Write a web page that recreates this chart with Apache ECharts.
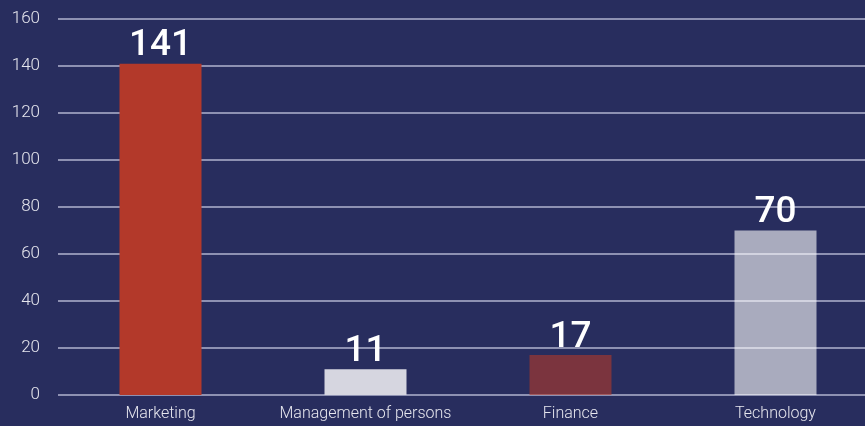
<!DOCTYPE html>
<html><head><meta charset="utf-8">
<script src="https://cdn.jsdelivr.net/npm/echarts@6/dist/echarts.min.js"></script>
<style>html,body{margin:0;padding:0;background:#282d5e;overflow:hidden;width:865px;height:426px;}#c{width:878px;height:426px;}</style>
</head><body><div id="c"></div>
<script>
const categories = ['Marketing', 'Management of persons', 'Finance', 'Technology'];
const values = [141, 11, 17, 70];
const barColors = ['#b3392a', '#d6d6e0', 'rgba(179,57,42,0.6)', 'rgba(255,255,255,0.6)'];
const yTicks = [0, 20, 40, 60, 80, 100, 120, 140, 160];

const chart = echarts.init(document.getElementById('c'), null, {renderer: 'canvas'});
chart.setOption({
  backgroundColor: '#282d5e',
  animation: false,
  grid: {left: 58, right: 0, top: 19, bottom: 31, containLabel: false},
  xAxis: {
    type: 'category', data: categories,
    axisLine: {show: false}, axisTick: {show: false},
    axisLabel: {interval: 0, hideOverlap: false, color: '#e6e6ee', fontSize: 16, fontFamily: 'Roboto', fontWeight: 300, margin: 11}
  },
  yAxis: {
    type: 'value', min: yTicks[0], max: yTicks[yTicks.length - 1], interval: 20,
    axisLine: {show: false}, axisTick: {show: false},
    axisLabel: {color: '#e6e6ee', fontSize: 17, fontFamily: 'Roboto', fontWeight: 300, margin: 18},
    splitLine: {lineStyle: {color: '#8e91b2', width: 2}}
  },
  series: [{
    type: 'bar', barWidth: 82, z: 1,
    data: values.map((v, i) => ({value: v, itemStyle: {color: barColors[i]}})),
    label: {show: true, position: 'top', distance: -1, color: '#ffffff', fontSize: 37, fontWeight: 500, fontFamily: 'Roboto', lineHeight: 37}
  }]
});
</script></body></html>
